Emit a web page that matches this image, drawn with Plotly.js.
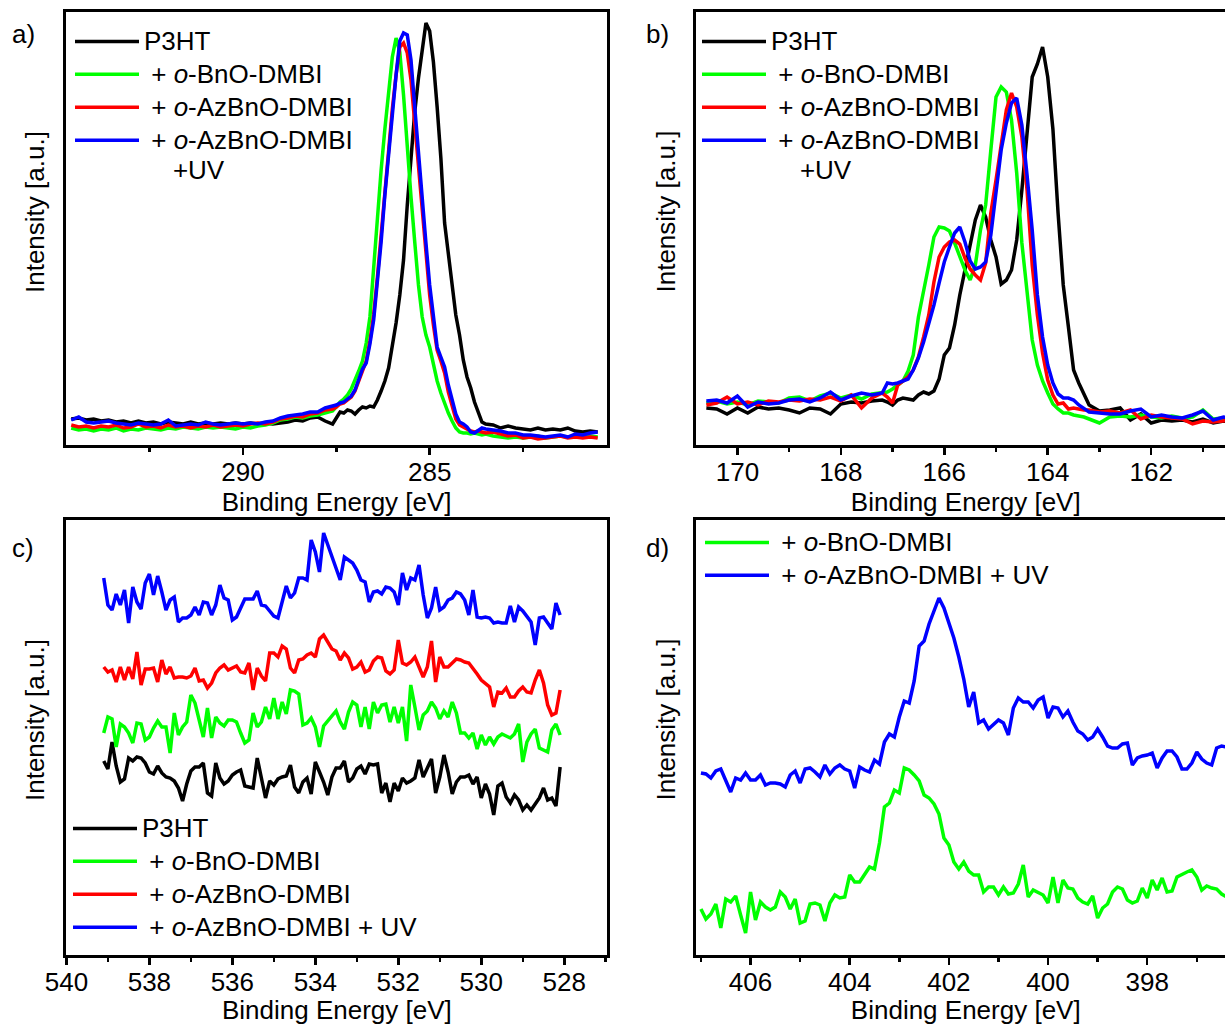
<!DOCTYPE html>
<html>
<head>
<meta charset="utf-8">
<script src="https://cdn.plot.ly/plotly-3.0.1.min.js"></script>
<style>
html,body{margin:0;padding:0;overflow:hidden;background:#fff;}
#chart{width:1260px;height:1025px;}
</style>
</head>
<body>
<div id="chart"></div>
<script>
// ---------- Panel a) C 1s ----------
const aEnergy = [294.6,294.4,294.2,294.0,293.8,293.6,293.4,293.2,293.0,292.8,292.6,292.4,292.2,292.0,291.8,291.6,291.4,291.2,291.0,290.8,290.6,290.4,290.2,290.0,289.8,289.6,289.4,289.2,289.0,288.8,288.6,288.4,288.2,288.0,287.8,287.6,
287.5,287.4,287.3,287.2,287.1,287.0,286.9,286.8,286.7,286.6,286.5,286.4,286.3,286.2,286.1,286.0,285.9,285.8,285.7,285.6,285.5,285.4,285.3,285.2,285.1,285.0,284.9,284.8,284.7,284.6,284.5,284.4,284.3,284.2,284.1,284.0,283.9,283.8,283.7,283.6,283.5,
283.3,283.1,282.9,282.7,282.5,282.3,282.1,281.9,281.7,281.5,281.3,281.1,280.9,280.7,280.5];
const aP3HT = [26,27,25,26,24,25,23,24,22,24,22,23,21,23,22,21,23,21,22,21,22,21,22,21,22,21,22,21,22,23,25,24,27,28,24,21,
27,33,32,35,34,31,35,38,37,39,38,45,54,64,77,98,122,150,185,240,290,333,367,398,422,414,383,338,287,222,190,157,130,110,85,68,57,43,32,23,21,
20,17,19,17,16,15,17,15,16,15,17,14,13,14,13];
const aBnO = [17,15,16,14,16,15,17,14,16,15,17,16,15,17,16,18,17,16,18,17,18,17,16,18,17,19,20,22,25,26,28,27,29,30,32,34,
38,43,46,50,56,64,74,84,102,128,178,232,275,316,355,388,407,393,350,295,248,203,160,128,110,98,80,64,52,41,32,24,17,13,12,12,11,12,11,10,11,
9,8,7,8,7,8,9,7,8,9,8,9,10,9,8];
const aAzBnO = [20,18,19,17,19,18,20,17,18,21,18,19,17,20,18,19,17,19,18,20,18,19,20,19,21,22,21,23,26,27,29,28,31,32,35,36,
38,41,42,45,48,54,64,74,84,104,130,168,210,255,297,336,370,398,402,392,365,322,277,234,190,150,120,95,84,72,53,38,26,20,18,16,14,13,14,13,12,
13,11,9,10,7,8,6,7,8,9,7,8,7,8,7];
const aAzBnOUV = [25,28,23,22,23,24,22,21,20,22,21,20,21,25,19,20,21,20,23,21,20,21,22,21,22,21,23,24,27,29,30,31,33,33,37,39,
40,42,43,46,49,55,66,76,82,101,125,160,203,250,292,332,370,404,412,410,385,338,290,246,202,160,125,98,88,78,60,44,31,23,21,18,13,12,15,17,16,
15,14,12,12,10,10,9,8,9,10,8,11,10,12,13];

// ---------- Panel b) S 2p ----------
const bEnergy = [170.6,170.4,170.2,170.0,169.8,169.6,169.4,169.2,169.0,168.8,168.6,168.4,168.2,168.0,167.8,167.6,167.4,167.2,
167.1,167.0,166.9,166.8,166.7,166.6,166.5,166.4,166.3,166.2,166.1,166.0,165.9,165.8,165.7,165.6,165.5,165.4,165.3,165.2,165.1,165.0,164.9,164.8,164.7,164.6,164.5,164.4,164.3,164.2,164.1,164.0,163.9,163.8,163.7,163.6,163.5,163.4,163.3,163.2,
163.0,162.8,162.6,162.4,162.2,162.0,161.8,161.6,161.4,161.2,161.0,160.8,160.6,160.4];
const bP3HT = [37,36,31,37,32,38,36,37,35,32,37,36,31,41,43,42,44,45,
43,40,45,47,46,45,50,53,51,54,66,90,97,120,150,175,204,225,240,228,205,188,161,165,175,205,255,310,368,381,398,368,316,232,160,118,75,62,50,40,
34,35,37,25,31,22,25,24,25,23,26,22,24,23];
const bBnO = [42,44,41,43,40,44,43,42,47,48,44,49,52,47,50,46,51,52,
53,56,60,64,74,90,128,152,180,208,218,217,214,202,188,175,165,180,215,240,295,348,358,353,325,272,202,150,105,80,64,52,41,36,32,32,30,29,28,26,
22,28,29,28,30,28,27,29,27,28,35,26,27,28];
const bAzBnO = [40,42,48,41,43,40,44,43,45,44,46,45,48,44,50,37,47,52,
48,42,60,64,68,75,88,108,130,163,188,198,203,205,201,187,176,170,165,182,232,265,300,335,352,338,308,255,180,130,92,65,50,41,42,36,37,36,35,35,
33,34,32,35,26,30,28,27,26,21,24,23,24,25];
const bAzBnOUV = [44,45,42,49,38,43,41,42,45,46,43,47,53,45,49,52,50,52,
62,61,62,64,66,75,87,103,121,140,162,183,198,212,218,203,184,176,178,183,210,250,295,322,342,347,320,270,215,150,108,80,62,51,47,47,45,40,36,33,
32,31,31,34,36,28,30,28,27,30,34,25,28,27];

// ---------- Panel c) O 1s ----------
const cEnergy = [539.1,539.0,538.9,538.8,538.7,538.6,538.5,538.4,538.3,538.2,
538.1,538.0,537.9,537.8,537.7,537.6,537.5,537.4,537.3,537.2,
537.1,537.0,536.9,536.8,536.7,536.6,536.5,536.4,536.3,536.2,
536.1,536.0,535.9,535.8,535.7,535.6,535.5,535.4,535.3,535.2,
535.1,535.0,534.9,534.8,534.7,534.6,534.5,534.4,534.3,534.2,
534.1,534.0,533.9,533.8,533.7,533.6,533.5,533.4,533.3,533.2,
533.1,533.0,532.9,532.8,532.7,532.6,532.5,532.4,532.3,532.2,
532.1,532.0,531.9,531.8,531.7,531.6,531.5,531.4,531.3,531.2,
531.1,531.0,530.9,530.8,530.7,530.6,530.5,530.4,530.3,530.2,
530.1,530.0,529.9,529.8,529.7,529.6,529.5,529.4,529.3,529.2,
529.1,529.0,528.9,528.8,528.7,528.6,528.5,528.4,528.3,528.2,
528.1];
const cP3HT = [194,186,213,189,173,176,197,194,198,197,
192,183,181,189,182,178,177,174,167,154,
171,184,188,188,192,162,159,192,177,171,
174,180,183,185,169,168,167,197,177,157,
174,170,176,178,179,190,168,162,173,177,
161,193,183,173,160,178,187,187,194,173,
177,186,189,181,191,190,191,162,172,153,
172,164,177,172,174,177,195,178,187,196,
162,178,200,183,161,173,178,178,180,171,
178,157,171,161,140,169,172,158,152,160,
155,145,150,145,151,157,167,155,157,149,188];
const cBnO = [222,238,236,208,231,228,222,212,232,231,
215,218,227,234,228,228,202,242,220,228,
233,260,252,236,218,247,217,238,232,229,
235,235,233,222,212,215,242,228,233,248,
236,257,236,253,241,265,264,261,230,232,
237,228,208,229,234,238,244,233,226,243,
253,250,228,248,226,253,242,250,251,233,
248,232,248,214,270,248,225,240,244,253,
247,236,244,238,253,242,222,222,217,222,
206,220,210,218,211,218,221,219,217,221,
231,193,213,221,226,207,205,203,225,231,220];
const cAzBnO = [288,283,285,273,288,275,288,276,303,270,
286,286,287,273,295,281,288,277,278,278,
277,279,287,274,275,267,272,282,287,290,
285,287,289,283,282,292,265,287,279,274,
302,302,298,309,306,287,282,295,296,300,
302,298,316,320,313,306,304,295,302,297,
286,288,293,283,285,294,298,297,284,281,
285,315,292,290,293,298,288,278,288,314,
273,298,288,288,292,296,295,293,292,287,
281,275,271,268,248,263,262,267,258,258,
264,268,263,262,275,285,272,250,240,242,265];
const cAzBnOUV = [377,350,345,361,350,365,332,368,353,346,
372,381,360,379,363,345,355,358,333,337,
337,340,348,340,353,352,340,350,370,357,
355,335,338,348,356,356,356,364,350,349,
344,339,337,352,369,357,362,377,377,375,
415,403,383,422,410,399,385,375,398,395,
392,385,375,373,353,363,364,361,368,367,
363,350,382,365,377,375,390,360,337,347,
368,345,348,355,357,363,361,355,340,365,
338,337,338,337,332,333,332,332,349,333,
348,344,338,333,310,337,338,332,326,352,340];

// ---------- Panel d) N 1s ----------
const dEnergy = [407.0,406.9,406.8,406.7,406.6,406.5,406.4,406.3,406.2,406.1,
406.0,405.9,405.8,405.7,405.6,405.5,405.4,405.3,405.2,405.1,
405.0,404.9,404.8,404.7,404.6,404.5,404.4,404.3,404.2,404.1,
404.0,403.9,403.8,403.7,403.6,403.5,403.4,403.3,403.2,403.1,
403.0,402.9,402.8,402.7,402.6,402.5,402.4,402.3,402.2,402.1,
402.0,401.9,401.8,401.7,401.6,401.5,401.4,401.3,401.2,401.1,
401.0,400.9,400.8,400.7,400.6,400.5,400.4,400.3,400.2,400.1,
400.0,399.9,399.8,399.7,399.6,399.5,399.4,399.3,399.2,399.1,
399.0,398.9,398.8,398.7,398.6,398.5,398.4,398.3,398.2,398.1,
398.0,397.9,397.8,397.7,397.6,397.5,397.4,397.3,397.2,397.1,
397.0,396.9,396.8,396.7,396.6,396.5,396.4,396.3];
const dBnO = [46,36,41,51,27,56,53,59,40,22,
63,35,53,48,45,48,63,58,46,56,
32,34,51,52,50,34,52,60,57,58,
80,73,73,80,88,86,112,148,152,165,
162,187,185,180,174,160,157,151,141,117,
110,93,86,93,84,80,80,63,68,68,
60,68,61,62,71,90,58,65,62,60,
52,78,52,75,67,66,57,53,51,59,
37,47,51,63,68,66,55,52,54,67,
57,75,65,77,63,64,78,81,83,85,
78,65,69,67,66,61,58,60];
const dAzBnOUV = [182,181,177,184,186,175,163,177,175,182,
175,175,180,170,172,172,171,168,180,184,
172,186,187,183,178,190,181,187,190,186,
184,167,188,185,183,195,191,213,221,218,
238,254,252,274,309,314,331,344,357,347,
333,317,298,276,248,263,232,235,226,231,
235,232,220,247,257,253,253,247,255,258,
237,248,247,238,244,233,224,221,215,218,
226,218,209,207,207,211,212,190,197,199,
200,202,187,197,204,204,198,186,186,192,
203,196,192,190,207,209,208,207];

// Legend names (text drawn at 26px inside a legend whose row pitch is set by a smaller base size)
const big = s => '<span style="font-size:26px">' + s + '</span>';
const nP3HT = big('P3HT');
const nBnO = big('\u00a0+ <i>o</i>-BnO-DMBI');
const nAz = big('\u00a0+ <i>o</i>-AzBnO-DMBI');
const nAzUV2 = big('\u00a0+ <i>o</i>-AzBnO-DMBI') + '<br>' + big('\u00a0\u00a0\u00a0\u00a0+UV');
const nAzUV1 = big('\u00a0+ <i>o</i>-AzBnO-DMBI + UV');

// ---------- Layout helpers (pixel -> paper) ----------
const W = 1260, H = 1025;
const fx = p => p / W;
const fy = p => 1 - p / H;
const FONT = 'Liberation Sans, Arial, sans-serif';
const LW = 3.5;
const colBlack = '#000000', colGreen = '#00ff00', colRed = '#ff0000', colBlue = '#0000ff';

function tr(x, y, name, color, xa, ya, leg) {
  return {x: x, y: y, name: name, type: 'scatter', mode: 'lines',
          line: {color: color, width: LW}, xaxis: xa, yaxis: ya, legend: leg, showlegend: true};
}

const data = [
  tr(aEnergy, aP3HT, nP3HT, colBlack, 'x', 'y', 'legend'),
  tr(aEnergy, aBnO, nBnO, colGreen, 'x', 'y', 'legend'),
  tr(aEnergy, aAzBnO, nAz, colRed, 'x', 'y', 'legend'),
  tr(aEnergy, aAzBnOUV, nAzUV2, colBlue, 'x', 'y', 'legend'),
  tr(bEnergy, bP3HT, nP3HT, colBlack, 'x2', 'y2', 'legend2'),
  tr(bEnergy, bBnO, nBnO, colGreen, 'x2', 'y2', 'legend2'),
  tr(bEnergy, bAzBnO, nAz, colRed, 'x2', 'y2', 'legend2'),
  tr(bEnergy, bAzBnOUV, nAzUV2, colBlue, 'x2', 'y2', 'legend2'),
  tr(cEnergy, cP3HT, nP3HT, colBlack, 'x3', 'y3', 'legend3'),
  tr(cEnergy, cBnO, nBnO, colGreen, 'x3', 'y3', 'legend3'),
  tr(cEnergy, cAzBnO, nAz, colRed, 'x3', 'y3', 'legend3'),
  tr(cEnergy, cAzBnOUV, nAzUV1, colBlue, 'x3', 'y3', 'legend3'),
  tr(dEnergy, dBnO, nBnO, colGreen, 'x4', 'y4', 'legend4'),
  tr(dEnergy, dAzBnOUV, nAzUV1, colBlue, 'x4', 'y4', 'legend4')
];

function xax(domPx, range, dtick, minorDtick, anchor) {
  return {
    domain: [fx(domPx[0]), fx(domPx[1])], range: range, anchor: anchor,
    showline: true, mirror: true, linewidth: 3, linecolor: '#000',
    showgrid: false, zeroline: false,
    ticks: 'outside', ticklen: 7, tickwidth: 2.5, tickcolor: '#000',
    dtick: dtick, tick0: 0, ticklabelstandoff: -5,
    minor: {ticks: 'outside', ticklen: 4, tickwidth: 2.5, tickcolor: '#000', dtick: minorDtick, tick0: 0, showgrid: false},
    tickfont: {family: FONT, size: 26, color: '#000'},
    title: {text: 'Binding Energy [eV]', font: {family: FONT, size: 26, color: '#000'}, standoff: 0}
  };
}
function yax(domPx, range, anchor) {
  return {
    domain: [fy(domPx[1]), fy(domPx[0])], range: range, anchor: anchor,
    showline: true, mirror: true, linewidth: 3, linecolor: '#000',
    showgrid: false, zeroline: false, ticks: '', showticklabels: false
  };
}
function leg(xPx, yPx) {
  return {x: fx(xPx), y: fy(yPx), xanchor: 'left', yanchor: 'top',
          bgcolor: 'rgba(0,0,0,0)', borderwidth: 0, valign: 'top',
          itemwidth: 64, tracegroupgap: 0,
          font: {family: FONT, size: 23, color: '#000'}};
}
function ann(text, xPx, yPx, angle) {
  return {text: text, x: fx(xPx), y: fy(yPx), xref: 'paper', yref: 'paper',
          showarrow: false, xanchor: 'center', yanchor: 'middle', textangle: angle || 0,
          font: {family: FONT, size: 26, color: '#000'}};
}

const layout = {
  width: W, height: H,
  margin: {l: 0, r: 0, t: 0, b: 0},
  paper_bgcolor: '#fff', plot_bgcolor: '#fff',
  font: {family: FONT, size: 26, color: '#000'},
  xaxis: xax([66, 607.4], [294.74, 280.24], 5, 2.5, 'y'),
  yaxis: yax([12, 445], [0, 433], 'x'),
  xaxis2: xax([695.5, 1236], [170.81, 160.36], 2, 1, 'y2'),
  yaxis2: yax([12, 445], [0, 433], 'x2'),
  xaxis3: xax([66.4, 607.4], [540, 526.96], 2, 1, 'y3'),
  yaxis3: yax([520, 955], [0, 435], 'x3'),
  xaxis4: xax([695.5, 1236], [407.11, 396.21], 2, 1, 'y4'),
  yaxis4: yax([520, 955], [0, 435], 'x4'),
  legend: leg(70, 20),
  legend2: leg(697, 20),
  legend3: leg(68, 807),
  legend4: leg(700, 521),
  annotations: [
    ann('a)', 23, 34), ann('b)', 657, 34), ann('c)', 23, 548), ann('d)', 657, 548),
    ann('Intensity [a.u.]', 35, 212, -90), ann('Intensity [a.u.]', 665.5, 212, -90),
    ann('Intensity [a.u.]', 35, 720, -90), ann('Intensity [a.u.]', 665.5, 720, -90)
  ]
};

Plotly.newPlot('chart', data, layout, {displayModeBar: false, staticPlot: true});
</script>
</body>
</html>
